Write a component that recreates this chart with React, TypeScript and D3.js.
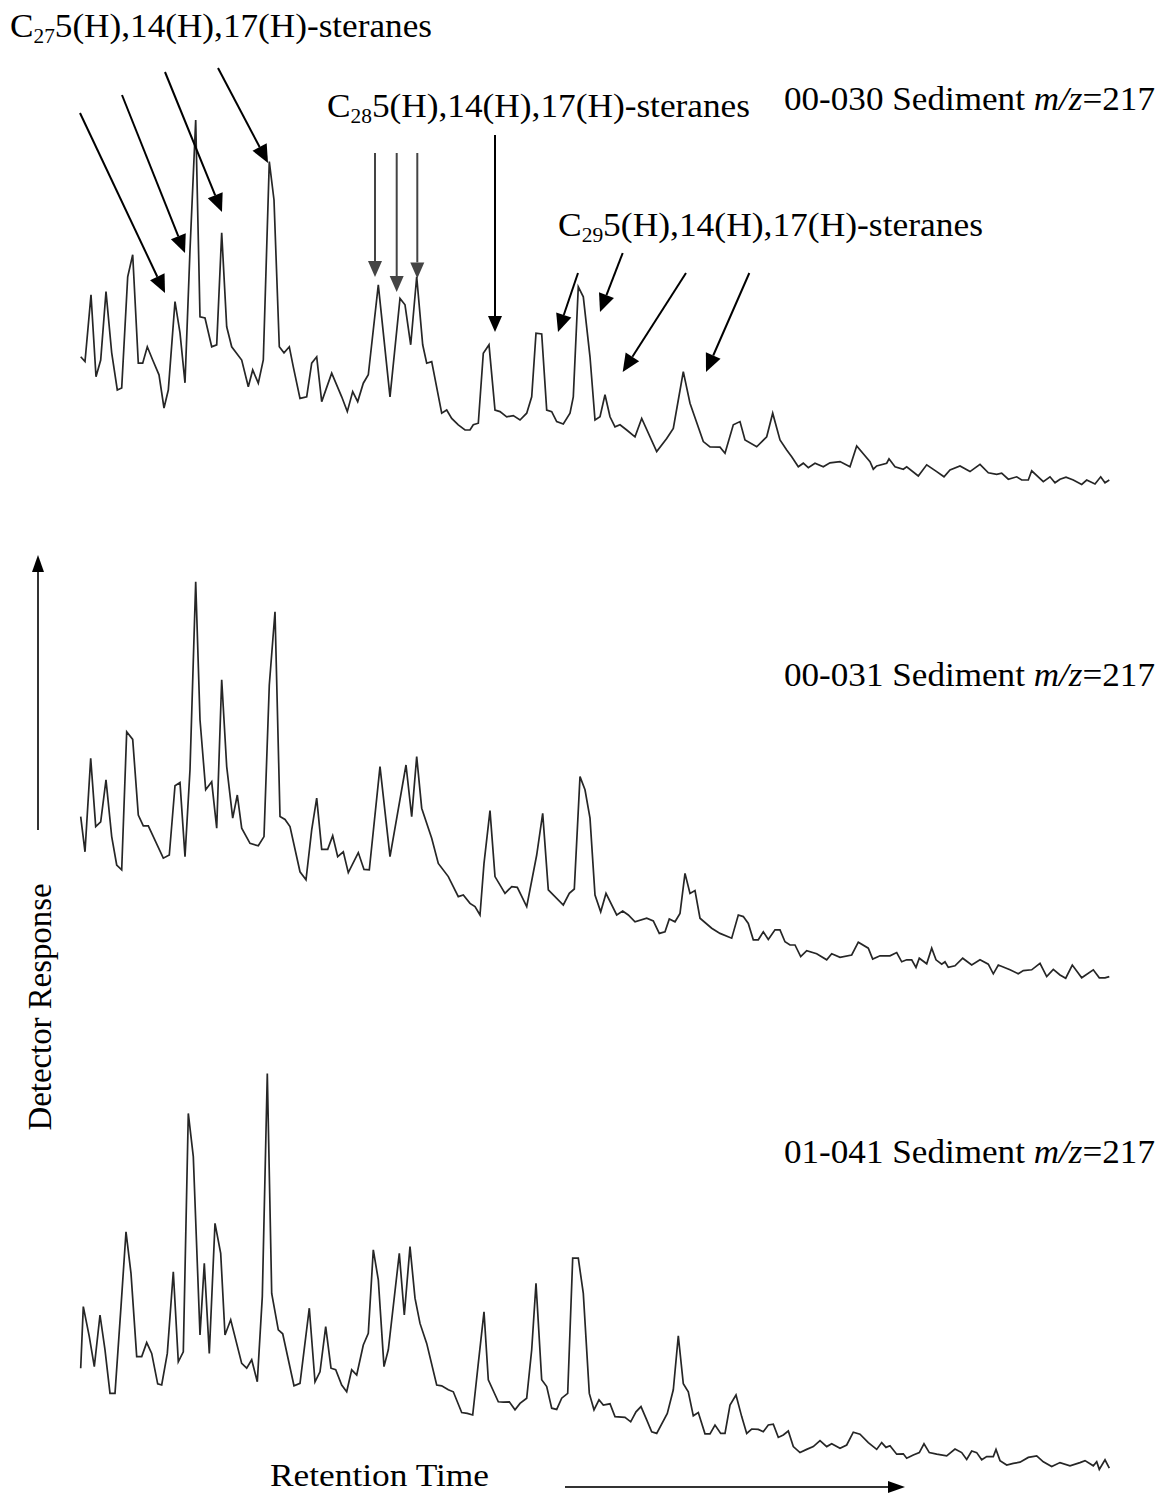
import React from "react";
import * as d3 from "d3";

// Retention time (min) vs. detector response (% of panel full scale), m/z 217 traces
const trace00030: [number, number][] = [
  [20.07, 33.3], [20.5, 32.1], [21.1, 48.8], [21.6, 28.3], [22.07, 32.5], [22.6, 49.6], [23.17, 34.3], [23.73, 25.0],
  [24.17, 25.5], [24.77, 53.3], [25.27, 58.8], [25.83, 31.7], [26.27, 31.7], [26.73, 35.8], [27.27, 32.5], [27.9, 28.8],
  [28.4, 20.5], [28.83, 25.0], [29.5, 47.1], [30.0, 39.3], [30.5, 26.8], [31.0, 60.0], [31.57, 92.5], [32.0, 43.3],
  [32.5, 43.0], [33.17, 35.8], [33.67, 36.3], [34.17, 64.3], [34.67, 40.8], [35.17, 35.8], [36.17, 32.5], [36.83, 25.8],
  [37.27, 30.0], [37.83, 26.7], [38.33, 32.5], [38.93, 82.1], [39.4, 72.5], [39.93, 35.8], [40.4, 34.3], [40.93, 35.8],
  [41.33, 30.8], [42.0, 22.9], [42.67, 23.3], [43.17, 31.7], [43.67, 33.3], [44.17, 22.1], [45.17, 29.2], [46.17, 23.3],
  [46.73, 19.6], [47.27, 24.6], [47.77, 22.1], [48.33, 26.7], [48.83, 28.8], [49.83, 51.3], [51.0, 23.3], [52.0, 47.9],
  [52.5, 46.3], [53.07, 36.3], [53.67, 53.3], [54.27, 36.3], [54.67, 31.7], [55.17, 32.1], [56.17, 19.2], [56.67, 20.0],
  [57.17, 17.9], [57.83, 16.3], [58.5, 15.0], [59.0, 15.0], [59.33, 16.3], [59.83, 16.7], [60.33, 34.2], [60.9, 36.3],
  [61.5, 20.0], [62.0, 19.6], [62.67, 18.3], [63.33, 18.6], [64.0, 17.5], [64.67, 19.2], [65.17, 23.3], [65.6, 39.2],
  [66.17, 39.0], [66.67, 20.0], [67.17, 19.6], [67.67, 17.1], [68.33, 16.5], [69.0, 19.2], [69.33, 23.3], [69.83, 50.8],
  [70.33, 48.3], [71.0, 33.3], [71.5, 17.5], [72.0, 18.3], [72.5, 23.8], [73.0, 18.3], [73.5, 15.8], [74.0, 16.3],
  [74.67, 15.0], [75.5, 13.3], [76.17, 17.9], [77.67, 9.6], [78.67, 12.9], [79.33, 15.4], [79.83, 22.5], [80.33, 29.6],
  [81.0, 21.7], [82.33, 12.1], [83.0, 10.8], [84.0, 10.7], [84.5, 9.2], [85.33, 16.3], [86.0, 17.1], [86.5, 12.5],
  [87.67, 10.8], [88.67, 13.3], [89.27, 19.2], [90.0, 12.5], [90.67, 10.0], [91.17, 8.3], [91.83, 5.8], [92.33, 6.7],
  [92.83, 5.6], [93.5, 6.7], [94.33, 5.8], [95.0, 6.8], [96.0, 7.1], [97.0, 5.8], [97.67, 11.0], [99.0, 7.1],
  [99.33, 5.2], [99.67, 6.0], [100.67, 6.7], [100.9, 7.8], [101.5, 5.8], [102.33, 5.2], [102.67, 5.8], [103.83, 3.5],
  [104.67, 6.3], [105.67, 4.6], [106.4, 3.3], [107.0, 5.0], [108.0, 6.0], [109.0, 4.6], [110.0, 6.4], [110.83, 4.3],
  [111.67, 3.9], [112.17, 4.2], [112.83, 2.7], [113.67, 3.3], [114.17, 2.5], [114.83, 2.5], [115.17, 4.8], [116.33, 2.1],
  [117.0, 3.3], [117.5, 1.8], [118.0, 2.7], [118.6, 3.2], [119.33, 2.5], [120.17, 1.4], [120.67, 2.5], [121.5, 1.5],
  [122.07, 3.3], [122.5, 1.8], [122.93, 2.5],
];

const trace00031: [number, number][] = [
  [20.07, 42.1], [20.5, 33.3], [21.07, 56.7], [21.57, 39.6], [22.07, 40.8], [22.6, 51.3], [23.17, 37.1], [23.67, 30.0],
  [24.17, 28.8], [24.67, 63.3], [25.27, 61.4], [25.83, 42.5], [26.33, 39.8], [26.83, 39.8], [28.33, 31.7], [28.93, 32.5],
  [29.5, 49.8], [30.0, 50.6], [30.5, 32.1], [31.0, 53.8], [31.57, 100.8], [32.0, 66.3], [32.57, 48.8], [33.17, 50.8],
  [33.67, 39.2], [34.17, 76.3], [34.67, 54.6], [35.27, 41.7], [35.73, 47.5], [36.17, 39.2], [37.0, 35.4], [37.83, 34.8],
  [38.4, 37.1], [38.93, 75.0], [39.5, 93.3], [40.0, 42.1], [40.5, 41.4], [41.0, 39.6], [42.0, 28.3], [42.6, 26.3],
  [43.17, 38.8], [43.67, 46.7], [44.17, 33.9], [44.77, 33.9], [45.27, 37.3], [45.77, 32.1], [46.33, 33.3], [46.83, 28.1],
  [47.83, 33.1], [48.4, 28.9], [48.93, 28.8], [50.0, 54.6], [51.0, 32.1], [52.6, 55.0], [53.17, 42.1], [53.67, 57.1],
  [54.17, 44.2], [55.17, 36.7], [55.83, 30.4], [56.83, 27.1], [57.83, 22.1], [58.33, 22.5], [59.0, 20.4], [59.5, 19.6],
  [60.0, 17.5], [60.4, 30.4], [61.0, 43.6], [61.5, 27.1], [62.5, 22.9], [63.17, 24.6], [63.73, 24.4], [64.67, 19.6],
  [65.67, 32.5], [66.27, 42.9], [66.83, 23.8], [68.33, 20.0], [68.93, 22.9], [69.43, 24.0], [70.0, 52.1], [70.5, 48.8],
  [71.0, 41.7], [71.5, 22.5], [72.07, 18.3], [72.6, 22.9], [73.67, 17.5], [74.27, 18.5], [74.83, 17.5], [75.5, 15.8],
  [76.67, 16.7], [77.33, 16.0], [77.93, 12.9], [78.5, 13.3], [78.93, 16.5], [79.5, 15.8], [80.0, 17.9], [80.5, 27.9],
  [81.0, 22.9], [81.5, 23.6], [82.0, 16.7], [83.17, 14.2], [84.0, 12.9], [85.17, 11.7], [85.83, 17.5], [86.33, 17.1],
  [86.83, 15.4], [87.33, 11.3], [87.83, 11.3], [88.33, 13.3], [88.83, 11.4], [89.5, 13.8], [90.0, 13.8], [90.5, 10.8],
  [91.0, 10.0], [91.5, 10.0], [92.07, 7.1], [92.67, 8.6], [93.67, 7.8], [94.67, 6.3], [95.17, 7.8], [96.0, 6.9],
  [97.17, 7.5], [97.83, 10.7], [98.83, 9.2], [99.27, 6.5], [100.0, 7.3], [101.0, 7.3], [101.67, 8.1], [102.17, 5.8],
  [102.67, 6.3], [103.17, 6.3], [103.6, 4.4], [103.93, 6.7], [104.67, 5.3], [105.17, 9.2], [105.6, 6.3], [106.17, 5.2],
  [106.5, 5.8], [106.83, 4.4], [107.5, 4.8], [108.27, 6.7], [109.17, 5.0], [110.0, 6.3], [110.83, 5.2], [111.33, 2.8],
  [111.83, 5.0], [113.0, 3.8], [113.83, 2.8], [114.33, 3.6], [115.17, 3.8], [116.0, 5.4], [116.67, 2.1], [117.33, 3.9],
  [118.0, 2.5], [118.57, 1.7], [119.23, 5.0], [120.17, 1.8], [121.33, 3.8], [121.93, 1.8], [122.5, 1.8], [122.93, 2.1],
];

const trace01041: [number, number][] = [
  [20.07, 26.7], [20.33, 42.1], [20.93, 34.6], [21.43, 27.1], [22.0, 40.0], [22.5, 31.3], [23.0, 20.4], [23.5, 20.4],
  [24.1, 42.1], [24.6, 60.8], [25.1, 50.4], [25.67, 29.6], [26.17, 29.6], [26.67, 33.1], [27.17, 30.4], [27.77, 22.8],
  [28.17, 22.5], [28.73, 30.4], [29.33, 50.8], [29.83, 28.3], [30.33, 30.8], [30.83, 90.4], [31.33, 79.6], [32.0, 35.0],
  [32.43, 52.9], [32.93, 30.4], [33.5, 62.9], [34.07, 55.4], [34.5, 35.0], [35.07, 38.8], [36.17, 27.9], [36.67, 26.7],
  [37.17, 28.8], [37.73, 23.3], [38.23, 44.6], [38.73, 100.4], [39.17, 45.4], [39.83, 36.3], [40.27, 35.3], [41.4, 22.3],
  [42.0, 22.9], [42.93, 41.7], [43.5, 23.3], [44.0, 25.8], [44.57, 37.1], [45.1, 26.7], [45.57, 26.3], [46.17, 22.5],
  [46.67, 20.8], [47.17, 26.3], [47.67, 25.0], [48.33, 32.5], [48.83, 35.4], [49.33, 56.3], [49.83, 48.8], [50.4, 27.1],
  [50.83, 31.3], [51.93, 55.4], [52.43, 40.0], [53.0, 57.1], [53.5, 44.2], [54.0, 37.9], [54.67, 32.9], [55.67, 22.5],
  [56.17, 22.3], [56.83, 21.3], [57.33, 20.8], [58.17, 15.6], [58.73, 15.4], [59.27, 15.0], [59.83, 27.9], [60.4, 40.8],
  [60.83, 23.8], [61.83, 18.3], [62.33, 18.2], [62.93, 18.3], [63.5, 16.3], [64.0, 17.9], [64.67, 19.2], [65.17, 31.3],
  [65.6, 47.9], [66.17, 23.8], [66.67, 22.1], [67.17, 16.7], [67.67, 16.4], [68.17, 19.2], [68.77, 20.4], [69.27, 54.2],
  [69.83, 54.2], [70.33, 45.4], [70.93, 20.4], [71.4, 16.3], [71.9, 18.8], [72.33, 17.5], [73.0, 17.8], [73.5, 14.6],
  [74.5, 14.4], [75.07, 13.3], [75.6, 15.8], [76.1, 17.1], [76.67, 13.8], [77.17, 10.8], [77.67, 10.4], [78.73, 15.4],
  [79.33, 21.3], [79.83, 34.8], [80.33, 22.8], [80.83, 20.8], [81.33, 14.8], [81.83, 15.6], [82.5, 10.3], [83.0, 10.3],
  [83.5, 12.5], [84.07, 10.4], [84.5, 10.4], [85.0, 17.5], [85.6, 20.0], [86.17, 14.6], [86.67, 10.4], [87.17, 11.5],
  [87.83, 11.4], [88.33, 10.8], [88.83, 12.5], [89.33, 12.7], [89.83, 9.4], [90.33, 10.0], [90.83, 11.0], [91.33, 7.1],
  [92.0, 5.6], [92.67, 6.4], [93.33, 7.1], [94.0, 8.6], [94.67, 7.1], [95.17, 7.8], [96.0, 6.7], [96.67, 7.5],
  [97.33, 10.7], [98.0, 10.2], [98.83, 8.1], [99.67, 6.4], [100.17, 8.1], [100.6, 6.9], [101.0, 7.3], [101.67, 5.2],
  [102.33, 5.3], [102.67, 4.2], [103.33, 5.0], [103.93, 5.6], [104.4, 7.8], [104.93, 5.6], [105.67, 5.2], [106.67, 4.8],
  [107.5, 6.5], [108.17, 5.6], [108.67, 3.9], [109.17, 6.0], [109.67, 5.6], [110.17, 3.8], [110.67, 4.6], [111.33, 4.6],
  [111.6, 6.4], [112.0, 3.6], [112.67, 2.5], [113.33, 2.9], [114.0, 3.2], [114.83, 4.4], [115.67, 4.8], [116.33, 3.3],
  [117.17, 2.1], [118.0, 3.1], [119.0, 2.3], [120.0, 3.1], [120.5, 3.6], [121.33, 2.3], [121.67, 3.3], [121.93, 1.4],
  [122.5, 3.8], [122.93, 1.7],
];

const sampleIds = ["00-030", "00-031", "01-041"];
const sampleTraces = [trace00030, trace00031, trace01041];

// Peak-identification arrows on the 00-030 trace: [tStart, rStart, tEnd, rEnd]
const arrowsC27: [number, number, number, number][] = [
  [20.0, 94.25, 28.5, 49.25],
  [24.2, 98.75, 30.5, 59.25],
  [28.5, 104.5, 34.2, 69.5],
  [33.8, 105.5, 38.8, 81.75],
];
const arrowsC28: [number, number, number, number][] = [
  [49.5, 84.25, 49.5, 53.25],
  [51.67, 84.25, 51.67, 49.5],
  [53.73, 84.25, 53.73, 52.9],
  [61.5, 88.75, 61.5, 39.5],
];
const arrowsC29: [number, number, number, number][] = [
  [69.8, 54.25, 67.8, 39.5],
  [74.27, 59.25, 72.0, 44.5],
  [80.6, 54.25, 74.27, 29.5],
  [86.93, 54.25, 82.6, 29.5],
];

const W = 1160;
const H = 1494;
const FONT = "'Liberation Serif', 'Times New Roman', serif";
const FS = 33;

const x = d3.scaleLinear().domain([20, 123]).range([80, 1110]);
const panelBase = [490, 985, 1475];
const yScales = panelBase.map((b) => d3.scaleLinear().domain([0, 100]).range([b, b - 400]));
const labelY = [110, 686, 1163];

const line = (ys: d3.ScaleLinear<number, number>) =>
  d3
    .line<[number, number]>()
    .x((d) => x(d[0]))
    .y((d) => ys(d[1]));

function Arrow({ a, ys, headLen = 18, halfW = 8, color = "#000" }: any) {
  const x1 = x(a[0]);
  const y1 = ys(a[1]);
  const x2 = x(a[2]);
  const y2 = ys(a[3]);
  const dx = x2 - x1;
  const dy = y2 - y1;
  const len = Math.hypot(dx, dy);
  const ux = dx / len;
  const uy = dy / len;
  const bx = x2 - ux * headLen;
  const by = y2 - uy * headLen;
  const px = -uy * halfW;
  const py = ux * halfW;
  return (
    <g>
      <line x1={x1} y1={y1} x2={bx} y2={by} stroke={color} strokeWidth={2} />
      <polygon points={`${x2},${y2} ${bx + px},${by + py} ${bx - px},${by - py}`} fill={color} />
    </g>
  );
}

function SteraneLabel({ n, xPos, yPos, w }: { n: string; xPos: number; yPos: number; w: number }) {
  return (
    <text
      x={xPos}
      y={yPos}
      fontFamily={FONT}
      fontSize={FS}
      fill="#000"
      textLength={w}
      lengthAdjust="spacingAndGlyphs"
    >
      C
      <tspan fontSize={20} dy={6}>
        {n}
      </tspan>
      <tspan dy={-6}>5(H),14(H),17(H)-steranes</tspan>
    </text>
  );
}

export default function App() {
  const ys1 = yScales[0];
  return (
    <svg
      width={W}
      height={H}
      viewBox={`0 0 ${W} ${H}`}
      style={{ position: "absolute", left: 0, top: 0, background: "#fff" }}
    >
      <rect x={0} y={0} width={W} height={H} fill="#fff" />

      {sampleTraces.map((tr, i) => (
        <path
          key={sampleIds[i]}
          d={line(yScales[i])(tr) ?? ""}
          fill="none"
          stroke="#262626"
          strokeWidth={1.7}
          strokeLinejoin="miter"
        />
      ))}

      {sampleIds.map((id, i) => (
        <text
          key={id}
          x={784}
          y={labelY[i]}
          fontFamily={FONT}
          fontSize={FS}
          fill="#000"
          textLength={371}
          lengthAdjust="spacingAndGlyphs"
        >
          {id} Sediment <tspan fontStyle="italic">m/z</tspan>=217
        </text>
      ))}

      <SteraneLabel n="27" xPos={10} yPos={37} w={422} />
      <SteraneLabel n="28" xPos={327} yPos={117} w={423} />
      <SteraneLabel n="29" xPos={558} yPos={236} w={425} />

      {arrowsC27.map((a, i) => (
        <Arrow key={`c27-${i}`} a={a} ys={ys1} />
      ))}
      {arrowsC28.map((a, i) => (
        <Arrow key={`c28-${i}`} a={a} ys={ys1} halfW={7} headLen={16} color={i < 3 ? "#444" : "#000"} />
      ))}
      {arrowsC29.map((a, i) => (
        <Arrow key={`c29-${i}`} a={a} ys={ys1} />
      ))}

      {/* detector response axis arrow */}
      <line x1={38} y1={830} x2={38} y2={570} stroke="#333" strokeWidth={2} />
      <polygon points="38,555 32,572 44,572" fill="#000" />
      <text
        transform="translate(51,1007) rotate(-90)"
        textAnchor="middle"
        fontFamily={FONT}
        fontSize={FS}
        fill="#000"
        textLength={247}
        lengthAdjust="spacingAndGlyphs"
      >
        Detector Response
      </text>

      {/* retention time axis arrow */}
      <text
        x={270}
        y={1486}
        fontFamily={FONT}
        fontSize={32}
        fill="#000"
        textLength={219}
        lengthAdjust="spacingAndGlyphs"
      >
        Retention Time
      </text>
      <line x1={565} y1={1487} x2={888} y2={1487} stroke="#333" strokeWidth={2} />
      <polygon points="905,1487 888,1481 888,1493" fill="#000" />
    </svg>
  );
}
